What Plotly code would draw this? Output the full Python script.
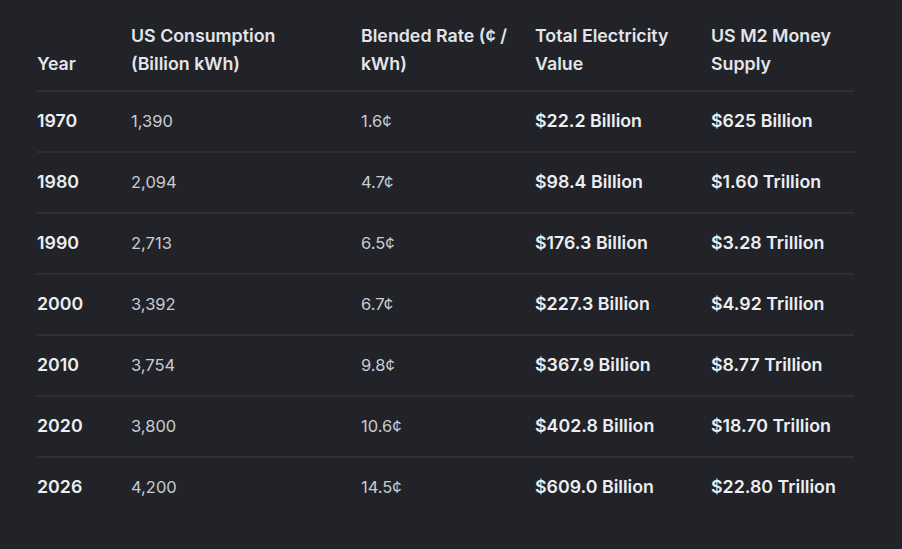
import plotly.graph_objects as go

years = ["1970", "1980", "1990", "2000", "2010", "2020", "2026"]
consumption = ["1,390", "2,094", "2,713", "3,392", "3,754", "3,800", "4,200"]
rates = ["1.6¢", "4.7¢", "6.5¢", "6.7¢", "9.8¢", "10.6¢", "14.5¢"]
values = ["$22.2 Billion", "$98.4 Billion", "$176.3 Billion", "$227.3 Billion",
          "$367.9 Billion", "$402.8 Billion", "$609.0 Billion"]
m2 = ["$625 Billion", "$1.60 Trillion", "$3.28 Trillion", "$4.92 Trillion",
      "$8.77 Trillion", "$18.70 Trillion", "$22.80 Trillion"]
headers = [["", "Year"], ["US Consumption", "(Billion kWh)"], ["Blended Rate (¢ /", "kWh)"],
           ["Total Electricity", "Value"], ["US M2 Money", "Supply"]]

W, H = 902, 549
BG = "#212329"
LINE = "#3a3d43"
HEAD_C = "#e3e5ea"
BOLD_C = "#eceef2"
NORM_C = "#c9ccd2"
FONT = "Inter, Roboto, sans-serif"

col_x = [37, 131, 361, 535, 711]
head_y = [38, 66]
row0, pitch = 123, 61
line0 = 91

columns = [(years, BOLD_C, 600, 17.8), (consumption, NORM_C, 400, 16.5),
           (rates, NORM_C, 400, 16.5), (values, BOLD_C, 600, 17.8), (m2, BOLD_C, 600, 17.8)]

fig = go.Figure()

for cx, (h1, h2) in zip(col_x, headers):
    fig.add_trace(go.Scatter(
        x=[cx, cx], y=head_y, text=[h1, h2], mode="text", textposition="middle right",
        textfont=dict(family=FONT, size=17.8, color=HEAD_C, weight=600),
        hoverinfo="skip", showlegend=False))

row_y = [row0 + pitch * i for i in range(len(years))]
for cx, (vals, col, wt, sz) in zip(col_x, columns):
    fig.add_trace(go.Scatter(
        x=[cx] * len(vals), y=row_y, text=vals, mode="text", textposition="middle right",
        textfont=dict(family=FONT, size=sz, color=col, weight=wt),
        hoverinfo="skip", showlegend=False))

for i in range(len(years)):
    yl = line0 + pitch * i
    fig.add_shape(type="line", x0=37, x1=854, y0=yl, y1=yl, xref="x", yref="y",
                  line=dict(color=LINE, width=1))

fig.update_layout(
    width=W, height=H, margin=dict(l=0, r=0, t=0, b=0),
    paper_bgcolor=BG, plot_bgcolor=BG,
    xaxis=dict(range=[0, W], visible=False, fixedrange=True),
    yaxis=dict(range=[H, 0], visible=False, fixedrange=True),
)

fig.write_html(
    "out.html",
    config={"displayModeBar": False},
    post_script="document.body.style.margin='0';document.body.style.background='" + BG + "';",
)
